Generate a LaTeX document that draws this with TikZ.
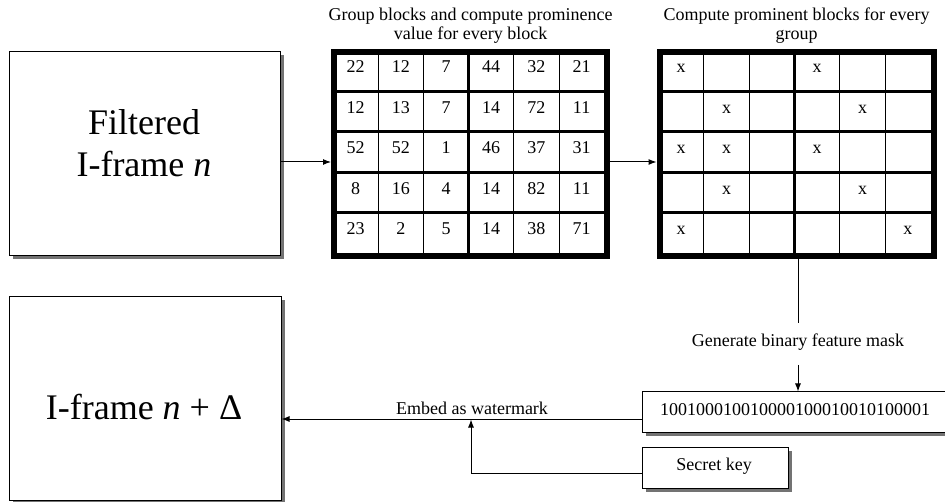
\documentclass[tikz,border=0pt]{standalone}
\usepackage{fontspec}
\setmainfont{Liberation Serif}
\usetikzlibrary{arrows.meta,shadows,calc}
\newcommand\mygridlines[2]{% #1 node name, #2 column width
  \foreach \i in {1,...,4}
    \draw[line width=3pt] ($(#1.north west)+(0,40.5*\i)$) -- ($(#1.north east)+(0,40.5*\i)$);
  \foreach \k in {1,2,4,5}
    \draw[line width=1pt] ($(#1.north west)+(#2*\k,0)$) -- ($(#1.south west)+(#2*\k,0)$);
  \draw[line width=3pt] ($(#1.north west)+(#2*3,0)$) -- ($(#1.south west)+(#2*3,0)$);
  \draw[line width=4pt] (#1.north west) rectangle (#1.south east);
}
\begin{document}
\begin{tikzpicture}[x=1pt,y=-1pt,
  frame/.style={draw=black, line width=1pt, fill=white, inner sep=0pt,
    drop shadow={shadow xshift=3.5pt, shadow yshift=-3.5pt, fill=black!55, opacity=1}},
  small/.style={font=\fontsize{18}{19.5}\selectfont},
  big/.style={font=\fontsize{36}{41.7}\selectfont},
  conn/.style={line width=1pt},
  arr/.style={conn, -{Latex[length=8pt,width=6pt]}},
  gridframe/.style={draw=black, line width=4pt, fill=white, inner sep=0pt,
    minimum height=202.5pt,
    drop shadow={shadow xshift=3.5pt, shadow yshift=-3.5pt, fill=black!55, opacity=1}},
]
\clip (0,0) rectangle (945,502);
\fill[white] (0,0) rectangle (945,502);

% boxes
\node[frame, minimum width=271pt, minimum height=204pt] (b1) at (144.5,154) {};
\node[big, align=center, anchor=base] (b1t) at (144,176.7) {Filtered\\I-frame \textit{n}};
\node[frame, minimum width=272pt, minimum height=203pt] (b2) at (145,398.5) {};
\node[big, anchor=base] (b2t) at (144,420) {I-frame \textit{n} + Δ};

% grids
\node[gridframe, minimum width=271.2pt] (g1) at (470.6,154.25) {};
\mygridlines{g1}{45.2}
\node[gridframe, minimum width=272pt] (g2) at (796.5,154.25) {};
\mygridlines{g2}{45.333}

\node[small, align=center, anchor=base] (t1) at (470.6,40) {Group blocks and compute prominence\\value for every block};
\node[small, align=center, anchor=base] (t2) at (796.6,40) {Compute prominent blocks for every\\group};

\foreach \r/\row in {1/{22,12,7,44,32,21},2/{12,13,7,14,72,11},3/{52,52,1,46,37,31},4/{8,16,4,14,82,11},5/{23,2,5,14,38,71}}
  \foreach \v [count=\c] in \row
    \node[small, anchor=base] (v\r\c) at ($(g1.north west)+(45.2*\c-22.6,40.5*\r-18.5)$) {\v};

\foreach \r/\c in {1/1,1/4,2/2,2/5,3/1,3/2,3/4,4/2,4/5,5/1,5/6}
  \node[small, anchor=base] (x\r\c) at ($(g2.north west)+(45.333*\c-22.667,40.5*\r-18.5)$) {x};

% bottom right boxes
\node[frame, minimum width=308pt, minimum height=40pt] (bin) at (796,412) {};
\node[small, anchor=base] (bint) at (795,415) {100100010010000100010010100001};
\node[frame, minimum width=146pt, minimum height=41pt] (key) at (715,467.5) {};
\node[small, anchor=base] (keyt) at (714,470) {Secret key};

% connectors
\coordinate (ya) at (0,162);
\draw[arr, shorten >=2pt] (b1.east |- ya) -- (g1.west |- ya);
\draw[arr, shorten >=2pt, shorten <=2pt] (g1.east |- ya) -- (g2.west |- ya);

\coordinate (m1) at (798,323);
\coordinate (m2) at (798,365);
\draw[conn] ($(g2.south -| m1)+(0,2)$) -- (m1);
\node[small, anchor=base] (lab1) at (798,347) {Generate binary feature mask};
\draw[arr] (m2) -- (bin.north -| m2);

\coordinate (ye) at (0,419);
\draw[arr] (bin.west |- ye) -- (b2.east |- ye);
\node[small, anchor=base] (lab2) at (472,414) {Embed as watermark};

\coordinate (yk) at (0,473);
\coordinate (kx) at (471,0);
\draw[arr, shorten >=0.5pt] (key.west |- yk) -| (kx |- ye);
\end{tikzpicture}
\end{document}
